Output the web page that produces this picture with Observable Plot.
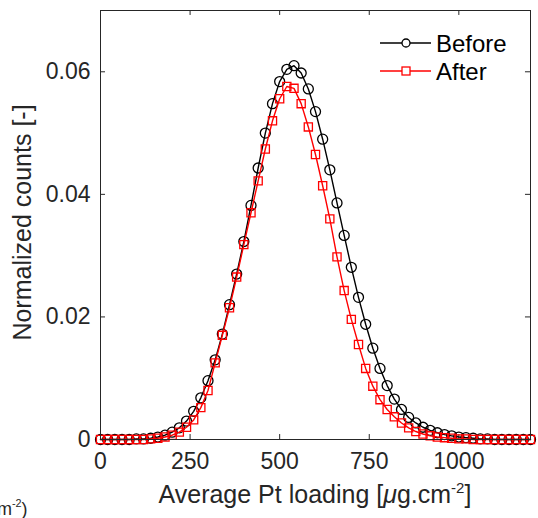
<!DOCTYPE html>
<html><head><meta charset="utf-8">
<script src="https://cdn.jsdelivr.net/npm/d3@7"></script>
<script src="https://cdn.jsdelivr.net/npm/@observablehq/plot@0.6"></script>
<style>
body{margin:0;background:#fff;}
#wrap{position:relative;width:538px;height:518px;overflow:hidden;font-family:"Liberation Sans",Arial,Helvetica,sans-serif;color:#262626;}
#wrap svg{position:absolute;left:0;top:0;}
.lab{position:absolute;white-space:nowrap;font-size:25px;color:#262626;}
sup{font-size:0.6em;vertical-align:0;position:relative;top:-0.7em;}
</style></head>
<body><div id="wrap"></div>
<script>
const loading = [0,20,40,60,80,100,120,140,160,180,200,220,240,260,280,300,320,340,360,380,400,420,440,460,480,500,520,540,560,580,600,620,640,660,680,700,720,740,760,780,800,820,840,860,880,900,920,940,960,980,1000,1020,1040,1060,1080,1100,1120,1140,1160,1180,1200];
const before = [0,0,0,0,0,0.0001,0.0001,0.0002,0.0004,0.0007,0.0012,0.0019,0.0030,0.0046,0.0068,0.0096,0.0130,0.0172,0.0220,0.0270,0.0323,0.0382,0.0443,0.0500,0.0548,0.0584,0.0604,0.0610,0.0598,0.0572,0.0535,0.0490,0.0440,0.0386,0.0333,0.0281,0.0232,0.0188,0.0149,0.0116,0.0088,0.0066,0.0049,0.0036,0.0027,0.0020,0.0015,0.0011,0.0008,0.0006,0.0004,0.0003,0.0002,0.0001,0.0001,0,0,0,0,0,0];
const after = [0,0,0,0,0,0,0,0.0001,0.0002,0.0004,0.0007,0.0012,0.0020,0.0032,0.0052,0.0080,0.0125,0.0170,0.0215,0.0265,0.0318,0.0370,0.0422,0.0474,0.0520,0.0556,0.0576,0.0573,0.0548,0.0510,0.0465,0.0414,0.0360,0.0298,0.0243,0.0196,0.0155,0.0116,0.0087,0.0065,0.0049,0.0037,0.0027,0.0019,0.0013,0.0009,0.0006,0.0004,0.0003,0.0002,0.0001,0.0001,0,0,0,0,0,0,0,0,0];
const xTicks = [0,250,500,750,1000];
const yTicks = [0,0.02,0.04,0.06];
const seriesNames = ["Before","After"];

const dBefore = loading.map((x,i)=>({x, y: before[i]}));
const dAfter = loading.map((x,i)=>({x, y: after[i]}));
const ink = "#262626";
const tx = 14, ty = 0.00081;

const chart = Plot.plot({
  width: 538, height: 518,
  marginLeft: 100, marginRight: 8, marginTop: 10, marginBottom: 79,
  style: {fontFamily: '"Liberation Sans", Arial, Helvetica, sans-serif', fontSize: "23px", color: ink, background: "transparent"},
  x: {domain: [0,1200]},
  y: {domain: [0,0.07]},
  marks: [
    Plot.axisX({ticks: xTicks, tickSize: 0, tickPadding: 13, label: null, fontSize: 23, tickFormat: d => String(d)}),
    Plot.axisY({ticks: yTicks, tickSize: 0, tickPadding: 10, label: null, fontSize: 23, tickFormat: d => d === 0 ? "0" : d.toFixed(2)}),
    Plot.ruleX(xTicks, {x: d => d, y1: 0, y2: ty, stroke: ink}),
    Plot.ruleX(xTicks, {x: d => d, y1: 0.07 - ty, y2: 0.07, stroke: ink}),
    Plot.ruleY(yTicks, {y: d => d, x1: 0, x2: tx, stroke: ink}),
    Plot.ruleY(yTicks, {y: d => d, x1: 1200 - tx, x2: 1200, stroke: ink}),
    Plot.line(dBefore, {x: "x", y: "y", stroke: "#000", strokeWidth: 1.4}),
    Plot.dot(dBefore, {x: "x", y: "y", r: 5, symbol: "circle", stroke: "#000", fill: "none", strokeWidth: 1.3}),
    Plot.line(dAfter, {x: "x", y: "y", stroke: "#ff0000", strokeWidth: 1.4}),
    Plot.dot(dAfter, {x: "x", y: "y", r: 4.6, symbol: "square", stroke: "#ff0000", fill: "none", strokeWidth: 1.3}),
    Plot.frame({stroke: ink, strokeWidth: 1})
  ]
});
const wrap = document.getElementById("wrap");
wrap.appendChild(chart);

// legend
const ns = "http://www.w3.org/2000/svg";
const leg = document.createElementNS(ns, "svg");
leg.setAttribute("width", 538); leg.setAttribute("height", 518);
leg.style.pointerEvents = "none";
const rows = [{name: seriesNames[0], color: "#000", sym: "circle", y: 43}, {name: seriesNames[1], color: "#ff0000", sym: "square", y: 71}];
for (const r of rows) {
  const l = document.createElementNS(ns, "line");
  l.setAttribute("x1", 380); l.setAttribute("x2", 431); l.setAttribute("y1", r.y); l.setAttribute("y2", r.y);
  l.setAttribute("stroke", r.color); l.setAttribute("stroke-width", 1.4);
  leg.appendChild(l);
  let m;
  if (r.sym === "circle") {
    m = document.createElementNS(ns, "circle");
    m.setAttribute("cx", 406); m.setAttribute("cy", r.y); m.setAttribute("r", 4);
  } else {
    m = document.createElementNS(ns, "rect");
    m.setAttribute("x", 402); m.setAttribute("y", r.y - 4); m.setAttribute("width", 8); m.setAttribute("height", 8);
  }
  m.setAttribute("fill", "#fff"); m.setAttribute("stroke", r.color); m.setAttribute("stroke-width", 1.3);
  leg.appendChild(m);
  const t = document.createElementNS(ns, "text");
  t.setAttribute("x", 436); t.setAttribute("y", r.y); t.setAttribute("dy", "0.36em");
  t.setAttribute("font-size", 24); t.setAttribute("fill", "#000");
  t.setAttribute("font-family", '"Liberation Sans", Arial, sans-serif');
  t.textContent = r.name;
  leg.appendChild(t);
}
wrap.appendChild(leg);

// axis labels
const xl = document.createElement("div");
xl.className = "lab";
xl.innerHTML = 'Average Pt loading [<i>\u03bc</i>g.cm<sup>-2</sup>]';
wrap.appendChild(xl);
xl.style.left = (315 - xl.offsetWidth / 2) + "px";
xl.style.top = "480px";

const yl = document.createElement("div");
yl.className = "lab";
yl.textContent = "Normalized counts [-]";
wrap.appendChild(yl);
yl.style.left = (22 - yl.offsetWidth / 2) + "px";
yl.style.top = (222 - yl.offsetHeight / 2) + "px";
yl.style.transform = "rotate(-90deg)";

const stray = document.createElement("div");
stray.className = "lab";
stray.style.fontSize = "18px";
stray.innerHTML = '[<i>\u03bc</i>g.cm<sup>-2</sup>)';
wrap.appendChild(stray);
stray.style.left = (28 - stray.offsetWidth) + "px";
stray.style.top = "499px";
</script>
</body></html>
